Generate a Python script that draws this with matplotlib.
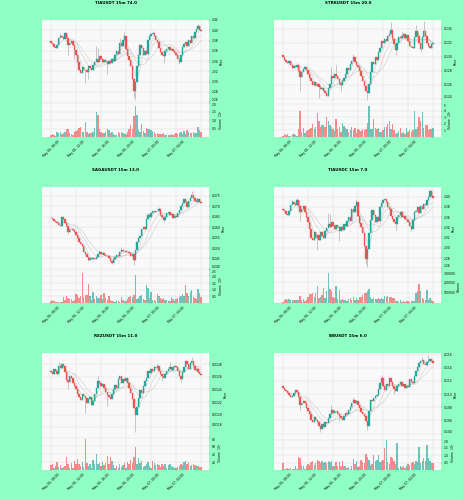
import matplotlib
matplotlib.use("Agg")
import matplotlib.pyplot as plt
import numpy as np
import pandas as pd

BG = "#90ffc3"
UP = "#26a69a"
DOWN = "#ef5350"

TIME_LABELS = ["May 06, 08:00", "May 06, 12:00", "May 06, 16:00",
               "May 06, 20:00", "May 07, 00:00", "May 07, 04:00"]

# --- TIAUSDT ---
tia_close = [
    2.376,2.373,2.368,2.365,2.371,2.384,2.388,2.386,2.383,2.394,
    2.384,2.372,2.376,2.380,2.371,2.362,2.352,2.338,2.322,2.317,
    2.329,2.322,2.323,2.318,2.330,2.326,2.322,2.332,2.339,2.344,
    2.338,2.349,2.344,2.338,2.343,2.339,2.334,2.340,2.336,2.345,
    2.341,2.352,2.360,2.354,2.375,2.370,2.382,2.389,2.364,2.350,
    2.342,2.330,2.306,2.281,2.300,2.330,2.352,2.372,2.366,2.352,
    2.359,2.354,2.381,2.388,2.392,2.395,2.388,2.382,2.378,2.365,
    2.358,2.352,2.349,2.360,2.364,2.368,2.362,2.364,2.359,2.356,
    2.352,2.344,2.339,2.352,2.368,2.374,2.378,2.370,2.382,2.376,
    2.388,2.384,2.396,2.402,2.408,2.400,2.399]
tia_vol = [
    .10,.18,.14,.08,.28,.26,.28,.20,.26,.30,
    .46,.50,.26,.20,.12,.30,.34,.42,.55,.60,
    .28,.30,.90,.30,.20,.26,.24,.28,.55,1.46,
    1.30,.45,.30,.26,.24,.28,.50,.42,.24,.30,
    .16,.12,.10,.28,.22,.30,.24,.20,.18,.28,
    .45,.70,.50,1.24,1.85,1.30,.40,.30,.75,.35,
    .25,.55,.45,.50,.42,.35,.30,.20,.24,.18,
    .15,.16,.22,.14,.10,.14,.12,.20,.10,.18,
    .22,.16,.24,.30,.18,.35,.20,.42,.28,.25,
    .22,.30,.26,.24,.60,.40,.30]
tia_wick_high = {6: 2.395, 9: 2.397, 29: 2.369, 30: 2.366, 44: 2.384, 47: 2.396, 65: 2.398, 94: 2.412}
tia_wick_low = {11: 2.352, 15: 2.345, 22: 2.297, 24: 2.306, 36: 2.315, 53: 2.270, 54: 2.265, 72: 2.336, 82: 2.335}

# --- STRKUSDT ---
strk_close = [
    .12994,.1296,.1293,.1291,.1294,.1289,.1284,.1287,.1286,.12886,
    .1280,.1271,.1279,.1283,.1285,.1281,.1275,.1270,.1266,.1260,
    .1264,.1258,.1261,.1257,.1254,.1256,.1251,.1248,.1244,.1255,
    .1262,.1273,.1270,.1275,.1272,.1268,.1263,.1260,.1266,.1270,
    .1276,.1284,.1281,.1290,.1294,.1300,.1292,.1288,.1286,.1280,
    .1272,.1265,.1259,.1252,.1248,.1262,.1278,.1293,.1290,.1300,
    .1296,.1307,.1312,.1322,.1319,.1325,.1323,.1329,.1332,.1338,
    .1325,.1318,.1310,.1320,.1328,.1326,.1330,.1332,.1327,.1331,
    .1322,.1316,.1314,.1312,.1328,.1336,.1330,.1320,.1311,.1328,
    .1337,.1330,.1320,.1315,.1313,.1318,.1319]
strk_vol = [
    .2,.5,.3,.5,.1,.2,.4,.5,.3,.2,
    1.3,4.0,.8,1.4,.6,.9,1.0,1.2,1.4,2.0,
    1.3,1.6,3.7,2.4,1.5,1.9,1.8,1.5,3.0,2.4,
    1.9,1.6,1.2,.9,2.7,1.2,1.6,.8,2.2,1.7,
    1.4,1.3,.8,1.1,1.5,1.0,1.4,.6,1.2,1.0,
    .9,1.3,1.0,1.2,2.2,4.75,1.2,1.3,2.7,1.4,
    1.3,1.4,.7,.8,1.1,1.5,1.6,2.0,2.5,1.2,
    2.0,1.0,.5,.6,.9,1.4,.6,.7,.5,1.4,
    .7,1.1,.8,1.0,4.0,1.2,1.5,3.0,2.4,3.9,
    1.4,1.8,1.9,1.0,1.3,1.2,1.4]
strk_wick_high = {31: .1285, 34: .1289, 45: .1304, 69: .1350, 76: .1337, 90: .1351, 85: .1345}
strk_wick_low = {11: .1252, 23: .1242, 37: .1252, 54: .1238, 72: .1302, 88: .1308}

# --- SAGAUSDT ---
saga_close = [
    .2642,.2638,.2630,.2625,.2618,.2612,.2607,.2650,.2638,.2620,
    .2605,.2579,.2590,.2592,.2587,.2575,.2562,.2548,.2531,.2518,
    .2510,.2483,.2470,.2458,.2444,.2452,.2448,.2452,.2446,.2456,
    .2470,.2483,.2470,.2474,.2466,.2462,.2460,.2450,.2440,.2428,
    .2445,.2455,.2467,.2462,.2480,.2491,.2484,.2488,.2480,.2482,
    .2475,.2462,.2470,.2444,.2490,.2531,.2548,.2560,.2590,.2602,
    .2590,.2640,.2658,.2650,.2670,.2677,.2672,.2680,.2676,.2687,
    .2660,.2650,.2634,.2648,.2668,.2674,.2660,.2662,.2645,.2655,
    .2650,.2668,.2682,.2700,.2715,.2737,.2722,.2698,.2725,.2740,
    .2753,.2738,.2725,.2722,.2735,.2720,.2718]
saga_vol = [
    .18,.22,.12,.08,.10,.05,.08,.04,.48,.20,
    .55,.35,.28,.32,.15,.22,.70,.60,.40,.55,
    2.26,.45,.60,.62,1.45,.55,.25,.80,.30,.55,
    .40,.35,.60,.30,.78,.40,.25,.55,.20,.18,
    .12,.10,.20,.14,.10,.45,.20,.18,.12,.30,
    .48,.50,.45,.60,2.08,.30,.40,.55,.58,.30,
    .25,1.33,1.15,.35,.80,.25,.20,.15,.65,.55,
    .35,.30,.40,.25,.20,.15,.12,.45,.30,.15,
    .30,.40,.45,.50,.70,.55,1.33,.75,.50,.85,
    1.00,.45,.40,.30,1.08,.75,.45]
saga_wick_high = {31: .2492, 45: .2503, 62: .2668, 69: .2695, 90: .2775}
saga_wick_low = {11: .2568, 24: .2436, 39: .2424, 53: .2420, 72: .2625}

# --- TIAUSDC ---
tiac_close = [
    2.374,2.372,2.366,2.364,2.372,2.383,2.389,2.385,2.384,2.393,
    2.382,2.370,2.375,2.381,2.370,2.361,2.350,2.337,2.320,2.315,
    2.330,2.320,2.325,2.316,2.331,2.324,2.320,2.333,2.338,2.346,
    2.340,2.350,2.343,2.336,2.345,2.340,2.332,2.341,2.335,2.346,
    2.342,2.353,2.361,2.352,2.376,2.369,2.381,2.390,2.362,2.348,
    2.340,2.328,2.304,2.279,2.298,2.328,2.354,2.373,2.365,2.350,
    2.360,2.352,2.380,2.387,2.393,2.396,2.389,2.380,2.376,2.363,
    2.356,2.350,2.347,2.361,2.365,2.369,2.360,2.363,2.357,2.354,
    2.350,2.343,2.337,2.354,2.370,2.372,2.379,2.368,2.381,2.375,
    2.386,2.383,2.394,2.400,2.410,2.402,2.398]
tiac_vol = [
    .12,.30,.42,.25,.40,.28,.30,.25,.30,.28,
    .30,.70,.25,.35,.20,.30,.55,.85,.90,.95,
    .60,1.00,1.65,.45,.60,.75,1.40,.50,1.10,2.90,
    1.30,1.10,.60,.50,1.60,.40,1.20,.30,.40,.25,
    .30,.20,.35,.45,.25,.55,.30,.45,.30,.60,
    .55,.80,.95,1.00,1.10,1.35,.60,.40,.45,.40,
    .40,.45,.40,.45,.40,.65,.60,.65,.55,.55,
    .50,.45,.15,.20,.10,.25,.08,.15,.10,.15,
    .20,.12,.18,.15,.20,.95,1.15,1.85,1.15,.45,
    .35,.30,1.25,.30,.45,.30,.22]
tiac_wick_high = {6: 2.396, 9: 2.398, 29: 2.368, 30: 2.366, 47: 2.396, 65: 2.398, 94: 2.414}
tiac_wick_low = {11: 2.352, 22: 2.295, 36: 2.313, 53: 2.268, 54: 2.263, 72: 2.334, 82: 2.333}

# --- REZUSDT ---
rez_close = [
    .01267,.01264,.01272,.01269,.01264,.01278,.01274,.01280,.01277,.01268,
    .01255,.01252,.01261,.01258,.01251,.01245,.01240,.01233,.01228,.01223,
    .01232,.01229,.01226,.01219,.01225,.01228,.01216,.01221,.01232,.01243,
    .01253,.01250,.01246,.01249,.01242,.01236,.01231,.01228,.01225,.01233,
    .01240,.01247,.01243,.01256,.01261,.01250,.01256,.01253,.01258,.01250,
    .01242,.01234,.01224,.01210,.01199,.01212,.01226,.01239,.01235,.01246,
    .01253,.01258,.01269,.01266,.01272,.01270,.01276,.01274,.01277,.01270,
    .01264,.01261,.01258,.01265,.01270,.01273,.01276,.01271,.01275,.01278,
    .01276,.01270,.01262,.01257,.01268,.01276,.01285,.01280,.01273,.01282,
    .01285,.01278,.01271,.01272,.01268,.01265,.01263]
rez_vol = [
    12,14,6,10,20,8,12,6,8,10,
    34,14,6,18,6,22,16,28,14,10,
    20,8,78,18,10,14,6,26,16,41,
    14,18,10,20,12,18,36,14,32,22,
    12,6,10,5,14,8,12,18,6,20,
    14,26,18,34,58,14,30,18,22,8,
    10,16,20,10,6,24,18,12,16,12,
    8,14,10,16,6,12,14,10,8,6,
    4,8,10,16,12,20,22,14,20,10,
    12,14,12,10,10,8,8]
rez_wick_high = {30: .01262, 5: .01284, 68: .01281, 76: .01284, 90: .01292}
rez_wick_low = {11: .01240, 22: .01203, 36: .01214, 54: .01173, 71: .01254, 83: .01252}

# --- BBUSDT ---
bb_close = [
    .1109,.1106,.1104,.1101,.1099,.1096,.1097,.1101,.1106,.1103,
    .1095,.1084,.1086,.1089,.1086,.1079,.1074,.1069,.1061,.1058,
    .1065,.1060,.1057,.1052,.1047,.1054,.1050,.1058,.1056,.1064,
    .1070,.1076,.1071,.1075,.1074,.1069,.1066,.1064,.1061,.1066,
    .1072,.1070,.1076,.1080,.1086,.1091,.1087,.1089,.1084,.1079,
    .1073,.1069,.1066,.1059,.1052,.1075,.1091,.1090,.1094,.1097,
    .1099,.1108,.1117,.1124,.1112,.1107,.1116,.1113,.1124,.1119,
    .1112,.1108,.1105,.1112,.1116,.1118,.1113,.1115,.1109,.1113,
    .1111,.1123,.1119,.1117,.1127,.1135,.1141,.1147,.1150,.1152,
    .1146,.1145,.1149,.1151,.1153,.1150,.1148]
bb_vol = [
    .45,.10,.08,.15,.10,.12,.05,.08,.30,.10,
    .85,.80,.35,.30,.10,.25,.40,.35,.55,.60,
    .35,.45,.65,.60,.50,.60,.45,.55,.50,.60,
    .55,.60,.30,.25,.55,.25,.55,.30,.60,.25,
    .30,.15,.20,.10,.30,.75,.40,.60,.20,.30,
    .65,.55,.50,1.05,.85,.70,.35,.40,1.00,.60,
    .70,1.00,.55,.60,.70,1.45,2.00,.55,.40,.85,
    .80,.60,.40,1.80,.15,.25,.20,.30,.15,.25,
    .40,.35,.50,.55,.40,.60,.55,1.55,.50,.60,
    .80,.60,1.70,.80,.60,.50,.50]
bb_wick_high = {31: .1083, 45: .1096, 63: .1129, 89: .1157, 93: .1159}
bb_wick_low = {11: .1076, 24: .1043, 36: .1059, 54: .1045, 71: .1100}

panels = [
    dict(title="TIAUSDT 15m 74.0", close=tia_close, vol=tia_vol, hi=tia_wick_high, lo=tia_wick_low,
         ylim=(2.2584, 2.42), yticks=[2.26, 2.28, 2.30, 2.32, 2.34, 2.36, 2.38, 2.40, 2.42], fmt="%.2f",
         vtop=2.0, vticks=[0.5, 1.0, 1.5, 2.0], vfmt="%.1f", vlabel="Volume  $10^{5}$",
         col=0, title_y=3, top=20, split=103, bottom=137),
    dict(title="STRKUSDT 15m 20.0", close=strk_close, vol=strk_vol, hi=strk_wick_high, lo=strk_wick_low,
         ylim=(.12343, .13523), yticks=[.124, .126, .128, .130, .132, .134], fmt="%.3f",
         vtop=5.2, vticks=[1, 2, 3, 4, 5], vfmt="%d", vlabel="Volume  $10^{6}$",
         col=1, title_y=3, top=20, split=103, bottom=137),
    dict(title="SAGAUSDT 15m 13.0", close=saga_close, vol=saga_vol, hi=saga_wick_high, lo=saga_wick_low,
         ylim=(.23992, .27929), yticks=[.240, .245, .250, .255, .260, .265, .270, .275], fmt="%.3f",
         vtop=2.56, vticks=[0.5, 1.0, 1.5, 2.0, 2.5], vfmt="%.1f", vlabel="Volume  $10^{5}$",
         col=0, title_y=170, top=187, split=269, bottom=303),
    dict(title="TIAUSDC 15m 7.0", close=tiac_close, vol=tiac_vol, hi=tiac_wick_high, lo=tiac_wick_low,
         ylim=(2.2587, 2.4187), yticks=[2.26, 2.28, 2.30, 2.32, 2.34, 2.36, 2.38, 2.40], fmt="%.2f",
         vtop=3.24, vticks=[1, 2, 3], vfmt=None, vlabel="Volume",
         col=1, title_y=170, top=187, split=269, bottom=303),
    dict(title="REZUSDT 15m 11.0", close=rez_close, vol=rez_vol, hi=rez_wick_high, lo=rez_wick_low,
         ylim=(.011659, .01298), yticks=[.0118, .0120, .0122, .0124, .0126, .0128], fmt="%.4f",
         vtop=86, vticks=[20, 40, 60, 80], vfmt="%d", vlabel="Volume  $10^{6}$",
         col=0, title_y=336, top=353, split=436, bottom=470),
    dict(title="BBUSDT 15m 6.0", close=bb_close, vol=bb_vol, hi=bb_wick_high, lo=bb_wick_low,
         ylim=(.10363, .11625), yticks=[.104, .106, .108, .110, .112, .114, .116], fmt="%.3f",
         vtop=2.28, vticks=[0.5, 1.0, 1.5, 2.0], vfmt="%.1f", vlabel="Volume  $10^{5}$",
         col=1, title_y=336, top=353, split=436, bottom=470),
]

W, H = 464, 500
LEFT = [42, 274]
AX_W = 167
TICK_POS = list(range(0, 97, 16))
MA_WINDOWS = [5, 10, 15]
FS = 2.2


def style_axis(ax):
    ax.set_facecolor("#f9f9f9")
    ax.grid(True, color="#e0e0e0", lw=0.35)
    ax.set_axisbelow(True)
    for side in ax.spines.values():
        side.set_visible(False)
    ax.yaxis.tick_right()
    ax.yaxis.set_label_position("right")
    ax.tick_params(axis="both", labelsize=FS, length=1, width=0.25, pad=1, color="#555555")
    ax.set_xlim(-5.7, 101)
    ax.set_xticks(TICK_POS)


fig = plt.figure(figsize=(W / 100, H / 100), dpi=100, facecolor=BG)

for p in panels:
    close = np.array(p["close"], dtype=float)
    volume = np.array(p["vol"], dtype=float)
    x = np.arange(len(close))
    open_ = np.r_[close[0] + (close[0] - close[1]), close[:-1]]
    high = np.maximum(open_, close)
    low = np.minimum(open_, close)
    for i, v in p["hi"].items():
        high[i] = v
    for i, v in p["lo"].items():
        low[i] = v
    rising = close >= open_
    colors = np.where(rising, UP, DOWN)

    left = LEFT[p["col"]]
    ax = fig.add_axes([left / W, 1 - p["split"] / H, AX_W / W, (p["split"] - p["top"]) / H])
    axv = fig.add_axes([left / W, 1 - p["bottom"] / H, AX_W / W, (p["bottom"] - p["split"]) / H])
    style_axis(ax)
    style_axis(axv)

    # wicks, moving averages, then candle bodies on top
    ax.vlines(x, low, high, color="#bdbdbd", lw=0.6, zorder=2)
    for w in MA_WINDOWS:
        ma = pd.Series(close).rolling(w).mean()
        ax.plot(x, ma, color="#bbbbbb", lw=0.4, alpha=0.7, zorder=2.5)
    ax.bar(x, np.abs(close - open_), bottom=np.minimum(open_, close), width=0.9,
           color=colors, edgecolor=colors, lw=0.25, zorder=3)
    ax.set_ylim(*p["ylim"])
    ax.set_yticks(p["yticks"])
    ax.set_yticklabels([p["fmt"] % t for t in p["yticks"]])
    ax.set_ylabel("Price", fontsize=FS, labelpad=0.6)
    ax.tick_params(axis="x", labelbottom=False, length=0)

    axv.bar(x, volume, width=0.9, color=colors, alpha=0.65, lw=0, zorder=3)
    axv.set_ylim(0, p["vtop"])
    axv.set_yticks(p["vticks"])
    if p["vfmt"] is None:
        axv.set_yticklabels([str(int(t * 100000)) for t in p["vticks"]])
    else:
        axv.set_yticklabels([p["vfmt"] % t for t in p["vticks"]])
    axv.set_ylabel(p["vlabel"], fontsize=FS, labelpad=0.6)
    axv.set_xticklabels(TIME_LABELS + [""], rotation=45, ha="center")

    # the lowest price label and the highest volume label share a spot at the seam
    ax.get_yticklabels()[0].set_va("bottom")
    axv.get_yticklabels()[-1].set_va("top")

    fig.text((W / 4) * (1 + 2 * p["col"]) / W, 1 - p["title_y"] / H, p["title"],
             ha="center", va="center", fontsize=2.9, fontweight="bold")

fig.savefig("out.png", dpi=100, facecolor=BG)
